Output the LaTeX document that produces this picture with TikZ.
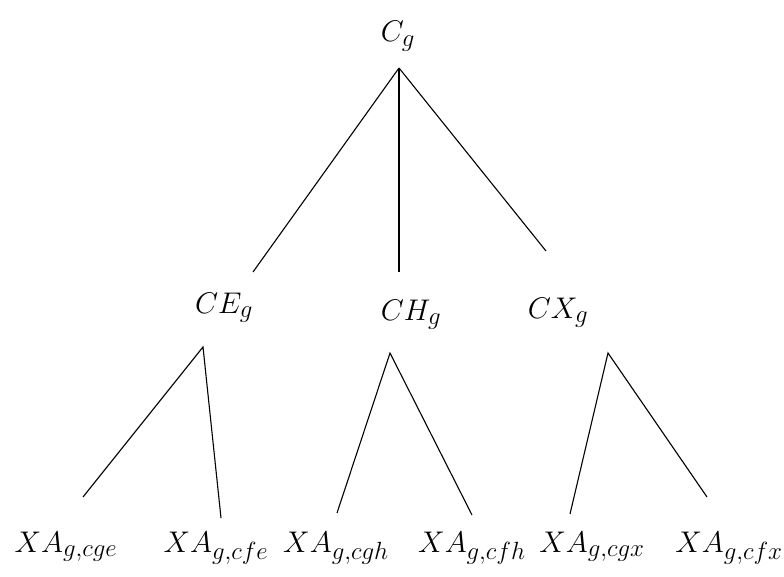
\documentclass[tikz,border=0pt]{standalone}
\begin{document}
\begin{tikzpicture}[x=1pt,y=-1pt,
  lbl/.style={font=\Huge, anchor=base, inner sep=0pt, scale=1.2, transform shape},
  branch/.style={line width=1.1pt}]
  \useasboundingbox (0,0) rectangle (784,577);

  % Racine C_g
  \node[lbl] (cg) at (398,42) {$C_g$};
  \coordinate (cg-foot) at (399,68);

  % Niveau intermediaire
  \node[lbl] (ce) at (224,313) {$CE_g$};
  \node[lbl] (ch) at (411,320) {$CH_g$};
  \node[lbl] (cx) at (558,318) {$CX_g$};
  \coordinate (ce-top) at (253,272);
  \coordinate (ch-top) at (399,272);
  \coordinate (cx-top) at (546,251);
  \coordinate (ce-foot) at (203,347);
  \coordinate (ch-foot) at (390,353);
  \coordinate (cx-foot) at (608,353);

  % Feuilles XA
  \node[lbl] (xcge) at (66,552) {$XA_{g,cge}$};
  \node[lbl] (xcfe) at (216,552) {$XA_{g,cfe}$};
  \node[lbl] (xcgh) at (336,552) {$XA_{g,cgh}$};
  \node[lbl] (xcfh) at (472,552) {$XA_{g,cfh}$};
  \node[lbl] (xcgx) at (592,552) {$XA_{g,cgx}$};
  \node[lbl] (xcfx) at (729,552) {$XA_{g,cfx}$};
  \coordinate (xcge-top) at (83,497);
  \coordinate (xcfe-top) at (221,518);
  \coordinate (xcgh-top) at (337,513);
  \coordinate (xcfh-top) at (472,515);
  \coordinate (xcgx-top) at (570,514);
  \coordinate (xcfx-top) at (707,497);

  % Branches depuis C_g
  \draw[branch] (cg-foot) -- (ce-top);
  \draw[branch] (cg-foot) -- (ch-top);
  \draw[branch] (cg-foot) -- (cx-top);

  % Branches vers les feuilles
  \draw[branch] (xcge-top) -- (ce-foot) -- (xcfe-top);
  \draw[branch] (xcgh-top) -- (ch-foot) -- (xcfh-top);
  \draw[branch] (xcgx-top) -- (cx-foot) -- (xcfx-top);
\end{tikzpicture}
\end{document}
